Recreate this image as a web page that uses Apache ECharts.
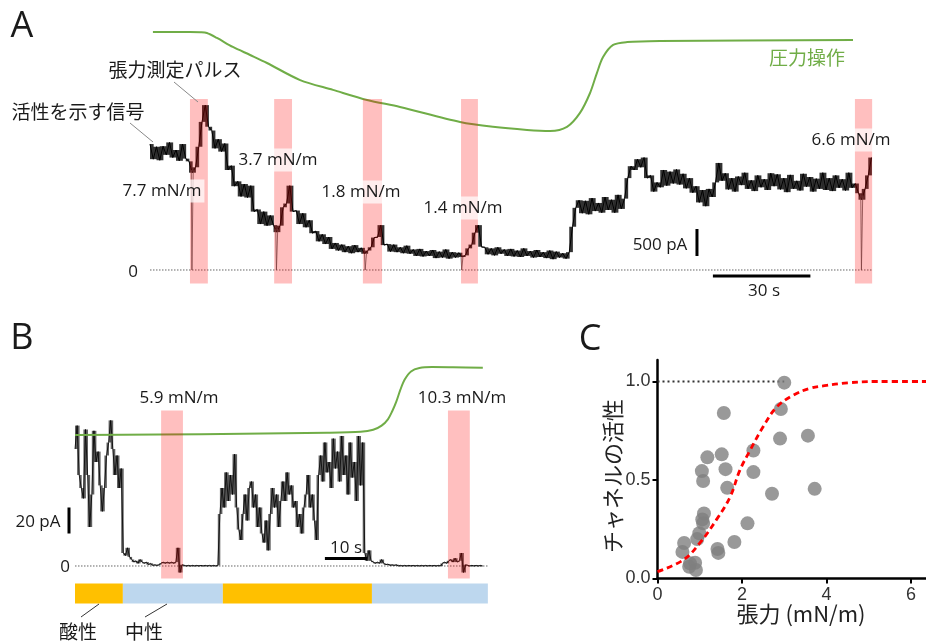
<!DOCTYPE html>
<html><head><meta charset="utf-8">
<script src="https://cdn.jsdelivr.net/npm/echarts/dist/echarts.min.js"></script>
<style>html,body{margin:0;padding:0;background:#fff}#c{width:926px;height:641px}</style>
</head><body><div id="c"></div>
<script>
// ---------- Panel A : current trace (pA), 1 sample per second ----------
const dtA = 1;
const traceA = [2330,2050,2280,2030,2290,2130,2360,2080,2220,2020,2330,2060,2010,1800,
1900,2280,2740,3050,2650,2580,2250,2420,2190,2340,1850,1930,1550,1640,1360,1590,1340,1560,1080,1120,850,1080,820,1010,830,
700,820,1160,1230,1560,1080,1100,850,1050,790,920,680,720,530,660,480,610,390,500,360,470,330,440,310,460,330,410,
300,360,420,600,610,830,460,480,340,470,330,420,310,450,300,380,260,390,250,350,260,370,220,340,230,380,210,330,230,320,
240,270,400,470,690,830,430,420,290,400,270,420,300,380,260,390,250,360,240,400,260,350,230,370,240,330,220,360,200,340,230,310,210,330,
800,1150,1290,1050,1280,1030,1330,1090,1240,1060,1350,1110,1300,1060,1390,1130,1320,
1700,1920,1850,2050,1900,2080,1700,1750,1450,1620,1530,1850,1560,1820,1600,1860,1580,1780,1510,1700,1430,1550,1250,1480,1180,1500,1350,1620,1980,1650,1790,1490,1700,1450,1730,1570,1800,1500,1660,1460,1750,1530,1680,1480,1790,1550,1770,1490,1700,1440,1760,1500,1650,1470,1780,1540,1720,1450,1690,1500,1800,1480,1700,1460,1750,1520,1680,1470,1800,1520,1600,1420,1300,1500,1750,2080];
const spikeA_t   = [13, 39, 66.3, 96, 219];
const spikeA_top = [1850, 760, 300, 250, 1380];
const pulseA_start = [12.3, 38.2, 65.5, 95.7, 216.9];
const pulseA_end   = [17.8, 43.7, 71.4, 100.9, 222.2];
const pulseA_label = ['7.7 mN/m','3.7 mN/m','1.8 mN/m','1.4 mN/m','6.6 mN/m'];
const pressA_t = [0.9,12.3,15.5,17.5,20.6,25.5,30.8,36,46.2,56.3,66.8,76.9,95.4,105.5,116,123.1,128.3,132.3,135.4,137.5,139.4,142.5,146.8,156.9,216.3];
const pressA_v = [97.3,97.3,97.2,96.9,95.0,91.5,88.4,85.3,78.7,74.9,71.0,68.3,62.5,60.6,59.4,59.0,60.6,66.0,73.7,81.4,87.6,92.3,93.4,93.8,94.2];

// ---------- Panel B : current trace (pA), 2 samples per second ----------
const dtB = 0.5;
const traceB = [90,108,70,60,52,105,70,30,55,104,80,88,62,42,60,85,95,112,90,70,85,60,75,
10,8,14,7,5,3,4,2,5,3,2,3,1,2,0.5,1,0.5,1,2,3,2,3,2,3,2,3,14,-5,1,0.5,0,0.5,0,0.5,0,0.5,0,0.5,0,0.5,0,0.5,0,0.5,0,0.5,
40,60,45,72,50,70,55,86,45,28,20,40,55,35,60,65,45,55,30,45,25,18,35,12,40,60,45,55,30,50,65,50,72,55,62,45,50,30,40,25,45,55,70,45,55,35,20,
70,85,65,95,72,80,60,98,75,88,65,100,70,85,55,95,68,80,50,100,62,95,
10,4,12,4,3,2,3,2,5,2,1,1.5,0.5,1,0.5,1,0,0.5,0,0.5,0,0.5,0,0.5,0,0.5,0,0.5,0,0.5,0,0.5,0,0.5,0,0.5,0,2,3,2,4,5,3,6,3,4,10,-5,1,0.5,0,0.5,0,0.5,0,0.5,0];
const pulseB_start = [20.5, 88.8];
const pulseB_end   = [25.7, 94.0];
const pulseB_label = ['5.9 mN/m','10.3 mN/m'];
const condB_start = [0, 11.4, 35.2, 70.7];
const condB_end   = [11.4, 35.2, 70.7, 98.3];
const condB_label = ['酸性','中性','酸性','中性'];
const pressB_t = [0,20,40,60,68,71,73,74.5,75.5,76.5,77.5,78.5,80,82,85,90,97.1];
const pressB_v = [69.4,69.6,69.9,70.3,70.7,71.5,73.2,75.8,79,83,88,92,95.3,96.7,97.1,97.0,96.8];

// ---------- Panel C : activity vs tension ----------
const tensionC  = [3.00,1.57,2.92,2.90,3.56,1.18,1.52,2.27,1.05,1.08,1.61,2.27,1.65,3.72,2.71,1.10,1.06,1.08,2.13,0.99,0.94,1.82,0.63,0.59,1.42,1.44,0.89,0.75,0.91,0.77];
const activityC = [0.994,0.84,0.86,0.71,0.725,0.615,0.63,0.65,0.545,0.495,0.555,0.54,0.46,0.455,0.43,0.33,0.30,0.28,0.28,0.23,0.20,0.185,0.18,0.135,0.15,0.13,0.08,0.06,0.043,0.077];
const fitX = [0,0.61,1.0,1.4,1.72,1.95,2.19,2.5,2.82,3.21,3.61,4.0,4.5,5.2,6.36];
const fitY = [0.035,0.094,0.18,0.30,0.415,0.55,0.65,0.77,0.87,0.93,0.965,0.98,0.993,1.0,1.0];
const ticksCx = [0,2,4,6];
const ticksCy = [0,0.5,1.0];

// ---------- build ----------
const chart = echarts.init(document.getElementById('c'), null, {renderer:'canvas', width:926, height:641});
const CJK = '"Noto Sans CJK JP"';
const LAT = '"Open Sans"';
const PINK = 'rgba(255,0,0,0.25)';
const GREEN = '#70ad47';

function line(xi, yi, data, color, width, extra) {
  return Object.assign({type:'line', xAxisIndex:xi, yAxisIndex:yi, data:data, symbol:'none', silent:true,
    animation:false, lineStyle:{color:color, width:width, join:'round'}, z:2}, extra || {});
}
function bands(xi, yi, starts, ends, lo, hi, colorFn, z) {
  return {type:'custom', xAxisIndex:xi, yAxisIndex:yi, z:z, silent:true, animation:false,
    data: starts.map((s,i)=>[s, ends[i], i]), encode:{x:[0,1]},
    renderItem:(p, api)=>{
      const a = api.coord([api.value(0), hi]);
      const b = api.coord([api.value(1), lo]);
      return {type:'rect', shape:{x:a[0], y:a[1], width:b[0]-a[0], height:b[1]-a[1]},
        style:{fill: colorFn(api.value(2))}};
    }};
}
// min–max envelope between consecutive samples (oscilloscope-style display of the trace)
function envelope(xi, yi, data, fill, z) {
  const items = [];
  for (let i = 0; i < data.length - 1; i++) items.push([data[i][0], data[i][1], data[i+1][0], data[i+1][1]]);
  return {type:'custom', xAxisIndex:xi, yAxisIndex:yi, z:z, silent:true, animation:false,
    data:items, encode:{x:[0,2], y:[1,3]},
    renderItem:(p, api)=>{
      const a = api.coord([api.value(0), Math.max(api.value(1), api.value(3))]);
      const b = api.coord([api.value(2), Math.min(api.value(1), api.value(3))]);
      return {type:'rect', shape:{x:a[0], y:a[1], width:b[0]-a[0]+0.4, height:Math.max(1, b[1]-a[1])}, style:{fill:fill}};
    }};
}

const series = [];
const dataA = traceA.map((v,i)=>[i*dtA, v]);
const dataB = traceB.map((v,i)=>[i*dtB, v]);
// A
series.push(envelope(0,0, dataA, 'rgba(0,0,0,0.8)', 1.5));
series.push(line(0,0, dataA, '#000', 1));
spikeA_t.forEach((t,i)=>{
  series.push(line(0,0, [[t-0.3, spikeA_top[i]],[t-0.1,0],[t+0.1,0],[t+0.3, spikeA_top[i]]], '#555', 0.8));
});
series.push(line(0,1, pressA_t.map((t,i)=>[t, pressA_v[i]]), GREEN, 2, {smooth:0.3}));
series.push(line(0,0, [[0,0],[222.2,0]], '#666', 1, {lineStyle:{color:'#666', width:1, type:[1.5,1.5]}, z:1}));
series.push(bands(0,0, pulseA_start, pulseA_end, -250, 3163, ()=>PINK, 3));
series.push(line(0,0, [[168.3,260],[168.3,760]], '#000', 3));   // 500 pA
series.push(line(0,0, [[173.2,-111],[203.2,-111]], '#000', 3)); // 30 s
// B
series.push(bands(1,2, condB_start, condB_end, -28.8, -13.5, i=>condB_label[i]==='酸性' ? '#ffc000' : '#bdd7ee', 1));
series.push(envelope(1,2, dataB, 'rgba(0,0,0,0.62)', 1.5));
series.push(line(1,2, dataB, '#000', 0.8));
series.push(line(1,3, pressB_t.map((t,i)=>[t, pressB_v[i]]), GREEN, 2, {smooth:0.3}));
series.push(line(1,2, [[0,0],[98.3,0]], '#666', 1, {lineStyle:{color:'#666', width:1, type:[1.5,1.5]}, z:1}));
series.push(bands(1,2, pulseB_start, pulseB_end, -9.6, 119.6, ()=>PINK, 3));
series.push(line(1,2, [[-1.43,25],[-1.43,45]], '#000', 3));  // 20 pA
series.push(line(1,2, [[59.5,5.8],[69.5,5.8]], '#000', 3));  // 10 s
// C
series.push(line(2,4, [[0,1],[3,1]], '#333', 2, {lineStyle:{color:'#333', width:2, type:[2,3]}, z:1}));
series.push({type:'scatter', xAxisIndex:2, yAxisIndex:4, data: tensionC.map((x,i)=>[x, activityC[i]]),
  symbolSize:14, itemStyle:{color:'#808080'}, silent:true, animation:false, z:2});
series.push(line(2,4, fitX.map((x,i)=>[x, fitY[i]]), '#ff0000', 2.5, {smooth:0.4,
  lineStyle:{color:'#ff0000', width:2.8, type:[6,4]}, z:3}));

function txt(x, y, s, size, opt) {
  opt = opt || {};
  return {type:'text', x:x, y:y, z:100, rotation: opt.rot || 0, silent:true,
    style:Object.assign({text:s, font: size + 'px ' + (opt.font || LAT), fill: opt.fill || '#1a1a1a',
      align:'center', verticalAlign:'middle', textAlign:'center', textVerticalAlign:'middle'},
      opt.bg ? {backgroundColor:'rgba(255,255,255,0.72)', padding:[3,3,3,3]} : {})};
}
function seg(x1,y1,x2,y2,c) {
  return {type:'line', z:100, silent:true, shape:{x1:x1,y1:y1,x2:x2,y2:y2}, style:{stroke:c, lineWidth:1}};
}
const labelPosA = [[162,191],[278,160],[361,192],[463,208],[851,140]];
const labelPosB = [[179,398],[462,398]];
const graphics = [
  txt(22,27,'A',36), txt(22,339,'B',36), txt(590,340,'C',36),
  txt(175,70,'張力測定パルス',19,{font:CJK}), seg(174,82,198,102,'#888'),
  txt(78,112,'活性を示す信号',19,{font:CJK}), seg(130,123,153,142,'#888'),
  txt(807,58,'圧力操作',19,{font:CJK, fill:GREEN}),
  txt(660,245,'500 pA',17), txt(764,291,'30 s',17), txt(133,272,'0',17),
  txt(38,522,'20 pA',17), txt(346,548,'10 s',17), txt(65,567,'0',17),
  txt(78,632,condB_label[0],19,{font:CJK}), seg(99,604,81,617,'#333'),
  txt(144,632,condB_label[1],19,{font:CJK}), seg(167,604,145,617,'#333'),
  txt(613,476,'チャネルの活性',22,{font:CJK, rot:Math.PI/2, fill:'#222'}),
  txt(801,614,'張力 (mN/m)',22,{font:CJK, fill:'#222'})
];
pulseA_label.forEach((s,i)=>graphics.push(txt(labelPosA[i][0], labelPosA[i][1], s, 17, {bg:true})));
pulseB_label.forEach((s,i)=>graphics.push(txt(labelPosB[i][0], labelPosB[i][1], s, 17, {bg:true})));

const axC = {fontSize:18, color:'#333', fontFamily:'"Liberation Sans"'};
chart.setOption({
  animation:false,
  grid:[
    {left:150, top:25, width:731.25, height:258.5},
    {left:54, top:360, width:434.7, height:245},
    {left:657.5, top:360, width:268.5, height:218.5}
  ],
  xAxis:[
    {gridIndex:0, type:'value', min:0, max:225, show:false},
    {gridIndex:1, type:'value', min:-5, max:98.5, show:false},
    {gridIndex:2, type:'value', min:0, max:6.355, interval:2, splitLine:{show:false},
      axisLine:{lineStyle:{color:'#000', width:2.5}},
      axisTick:{show:true, length:5, lineStyle:{color:'#000', width:2}, customValues:ticksCx},
      axisLabel:Object.assign({margin:8, customValues:ticksCx}, axC)}
  ],
  yAxis:[
    {gridIndex:0, type:'value', min:-250, max:4532.25, show:false},
    {gridIndex:0, type:'value', min:0, max:100, show:false},
    {gridIndex:1, type:'value', min:-30, max:158.46, show:false},
    {gridIndex:1, type:'value', min:0, max:100, show:false},
    {gridIndex:2, type:'value', min:0, max:1.109, interval:0.5, splitLine:{show:false},
      axisLine:{show:true, lineStyle:{color:'#000', width:2.5}},
      axisTick:{show:true, length:5, lineStyle:{color:'#000', width:2}, customValues:ticksCy},
      axisLabel:Object.assign({margin:7, customValues:ticksCy, formatter:v=>v.toFixed(1)}, axC)}
  ],
  series:series,
  graphic:graphics
});
</script></body></html>
